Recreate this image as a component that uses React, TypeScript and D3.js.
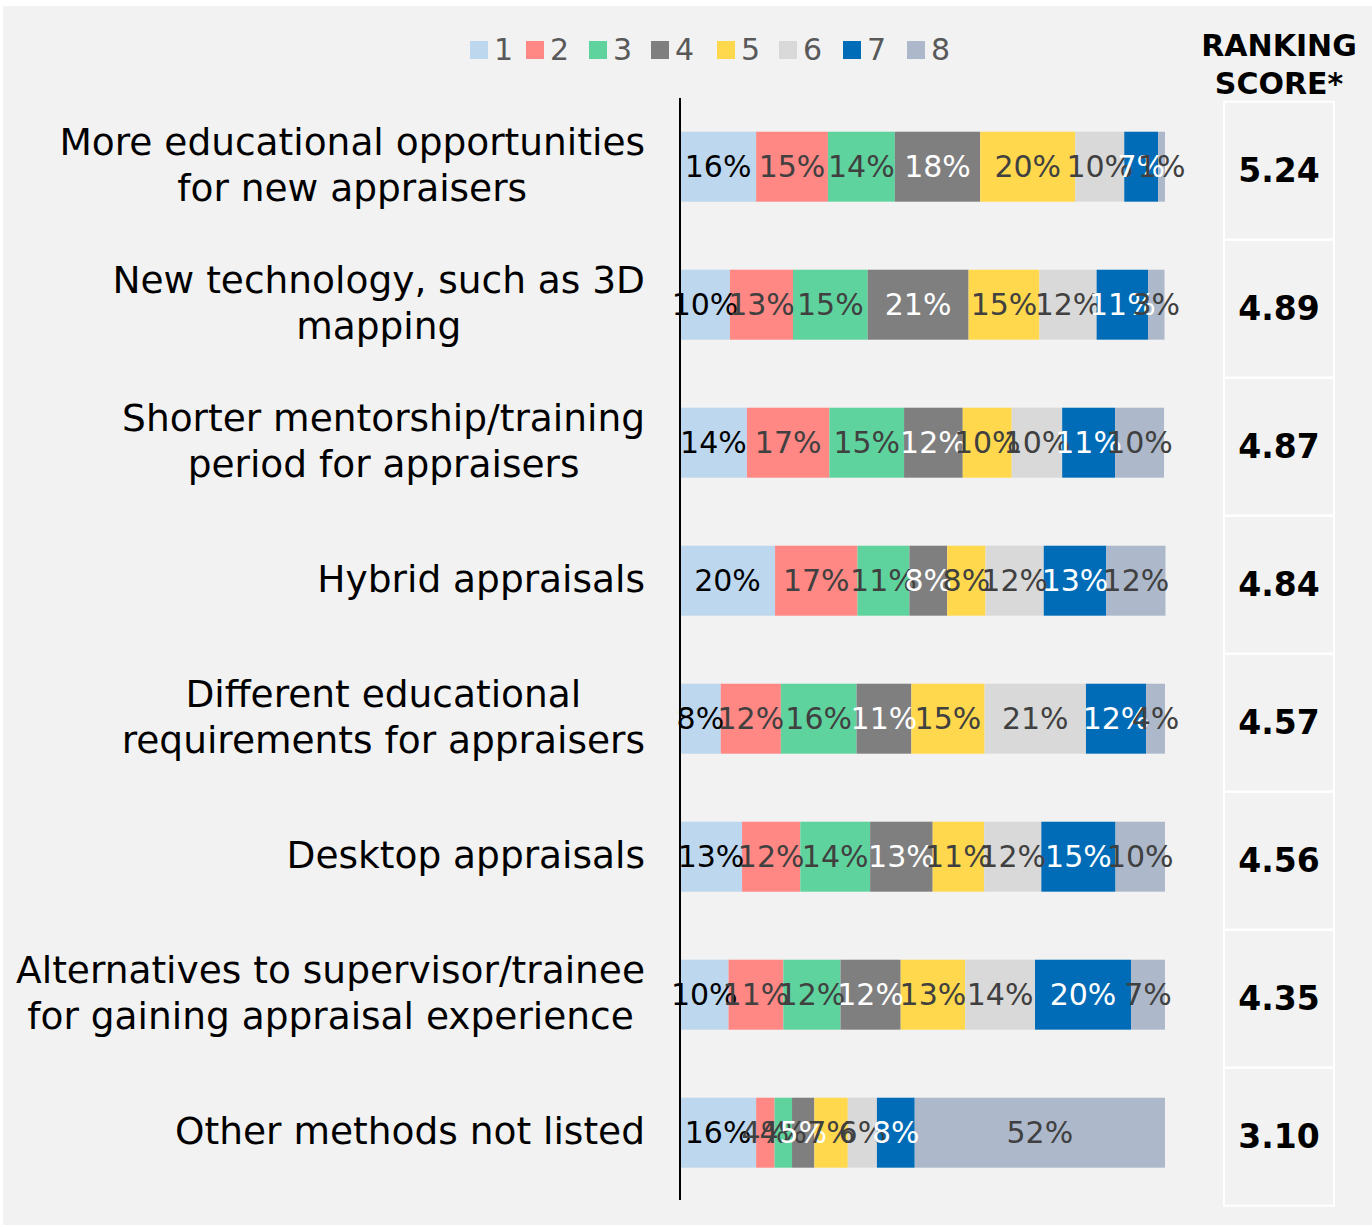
import React from "react";
import * as d3 from "d3";

const categories: string[][] = [
  ["More educational opportunities", "for new appraisers"],
  ["New technology, such as 3D", "mapping"],
  ["Shorter mentorship/training", "period for appraisers"],
  ["Hybrid appraisals"],
  ["Different educational", "requirements for appraisers"],
  ["Desktop appraisals"],
  ["Alternatives to supervisor/trainee", "for gaining appraisal experience"],
  ["Other methods not listed"],
];

const rankKeys = ["1", "2", "3", "4", "5", "6", "7", "8"];
const rankColors = ["#BDD7EE", "#FF8784", "#5FD39E", "#7F7F7F", "#FFD84D", "#D9D9D9", "#006CB7", "#ADB9CA"];
const labelColors = ["#000000", "#404040", "#404040", "#ffffff", "#404040", "#404040", "#ffffff", "#404040"];

// share (%) of respondents giving each rank, per category (top to bottom)
const rank1 = [15.7, 10.3, 13.8, 19.6, 8.4, 12.8, 10.0, 15.7];
const rank2 = [14.8, 13.0, 17.0, 17.0, 12.4, 12.0, 11.3, 3.8];
const rank3 = [13.8, 15.4, 15.4, 10.7, 15.6, 14.4, 11.8, 3.6];
const rank4 = [17.6, 20.8, 12.1, 7.8, 11.3, 12.9, 12.4, 4.6];
const rank5 = [19.6, 14.6, 10.1, 7.9, 15.1, 10.6, 13.3, 6.9];
const rank6 = [10.1, 11.8, 10.4, 12.0, 20.9, 11.8, 14.4, 6.0];
const rank7 = [7.0, 10.6, 10.9, 12.9, 12.4, 15.3, 19.8, 7.8];
const rank8 = [1.4, 3.4, 10.1, 12.2, 3.9, 10.2, 7.0, 51.6];

const scores = ["5.24", "4.89", "4.87", "4.84", "4.57", "4.56", "4.35", "3.10"];

const series = [rank1, rank2, rank3, rank4, rank5, rank6, rank7, rank8];

const FONT = "'DejaVu Sans', sans-serif";
const LABEL_SIZE = 37.5;

let ctx: CanvasRenderingContext2D | null = null;
function measure(text: string, font: string): number {
  if (!ctx) ctx = document.createElement("canvas").getContext("2d");
  if (!ctx) return text.length * 20;
  ctx.font = font;
  return ctx.measureText(text).width;
}

export default function App() {
  const W = 1372;
  const H = 1227;
  const ids = categories.map((_, i) => String(i));

  const y = d3
    .scaleBand<string>()
    .domain(ids)
    .range([97.7, 1201.7])
    .paddingInner(0.493)
    .paddingOuter(0.2465);
  const x = d3.scaleLinear().domain([0, 100]).range([680, 1165]);

  const rows = categories.map((_, i) => series.map((s) => s[i]));
  const stacked = rows.map((vals) => {
    let acc = 0;
    return vals.map((v) => {
      const a = acc;
      acc += v;
      return { a, b: acc, v };
    });
  });

  const step = y.step();
  const labelRight = 645;

  return (
    <div style={{ position: "absolute", left: 0, top: 0 }}>
      <svg width={W} height={H} style={{ display: "block", fontFamily: FONT }}>
        <rect x={0} y={0} width={W} height={H} fill="#ffffff" />
        <rect x={3} y={6} width={W - 3} height={1219} fill="#F2F2F2" />

        {/* legend */}
        <g>
          {rankKeys.map((k, i) => {
            const lx = [470, 526, 589, 651, 717, 779, 843, 907][i];
            return (
              <g key={k}>
                <rect x={lx} y={41} width={18} height={18} fill={rankColors[i]} />
                <text x={lx + 24} y={49} dominantBaseline="central" fontSize={30} fill="#595959">
                  {k}
                </text>
              </g>
            );
          })}
        </g>

        {/* header */}
        <text x={1279} y={45} textAnchor="middle" dominantBaseline="central" fontSize={30} fontWeight="bold" fill="#000">
          RANKING
        </text>
        <text x={1279} y={83} textAnchor="middle" dominantBaseline="central" fontSize={30} fontWeight="bold" fill="#000">
          SCORE*
        </text>

        {/* category labels */}
        {categories.map((lines, i) => {
          const cy = (y(ids[i]) as number) + y.bandwidth() / 2;
          const maxW = d3.max(lines, (l) => measure(l, `${LABEL_SIZE}px ${FONT}`)) || 0;
          const cx = labelRight - maxW / 2;
          const lh = 46;
          return (
            <g key={i}>
              {lines.map((l, j) => (
                <text
                  key={j}
                  x={cx}
                  y={cy - 2 + (j - (lines.length - 1) / 2) * lh}
                  textAnchor="middle"
                  dominantBaseline="central"
                  fontSize={LABEL_SIZE}
                  fill="#000"
                >
                  {l}
                </text>
              ))}
            </g>
          );
        })}

        {/* bars */}
        {stacked.map((segs, i) => (
          <g key={i}>
            {segs.map((s, k) => (
              <rect
                key={k}
                x={x(s.a)}
                y={y(ids[i])}
                width={x(s.b) - x(s.a)}
                height={y.bandwidth()}
                fill={rankColors[k]}
              />
            ))}
          </g>
        ))}
        {stacked.map((segs, i) => (
          <g key={"l" + i}>
            {segs.map((s, k) => (
              <text
                key={k}
                x={(x(s.a) + x(s.b)) / 2}
                y={(y(ids[i]) as number) + y.bandwidth() / 2}
                textAnchor="middle"
                dominantBaseline="central"
                fontSize={30}
                fill={labelColors[k]}
              >
                {Math.round(s.v) + "%"}
              </text>
            ))}
          </g>
        ))}

        {/* axis line */}
        <line x1={680} x2={680} y1={98} y2={1200} stroke="#000" strokeWidth={2} />

        {/* score boxes */}
        {scores.map((s, i) => {
          const top = (y(ids[i]) as number) - y.paddingOuter() * step;
          return (
            <g key={"s" + i}>
              <rect x={1224} y={top + 4} width={110} height={step} fill="none" stroke="#ffffff" strokeWidth={2} />
              <text
                x={1279}
                y={(y(ids[i]) as number) + y.bandwidth() / 2 + 4}
                textAnchor="middle"
                dominantBaseline="central"
                fontSize={33}
                fontWeight="bold"
                fill="#000"
              >
                {s}
              </text>
            </g>
          );
        })}
      </svg>
    </div>
  );
}
